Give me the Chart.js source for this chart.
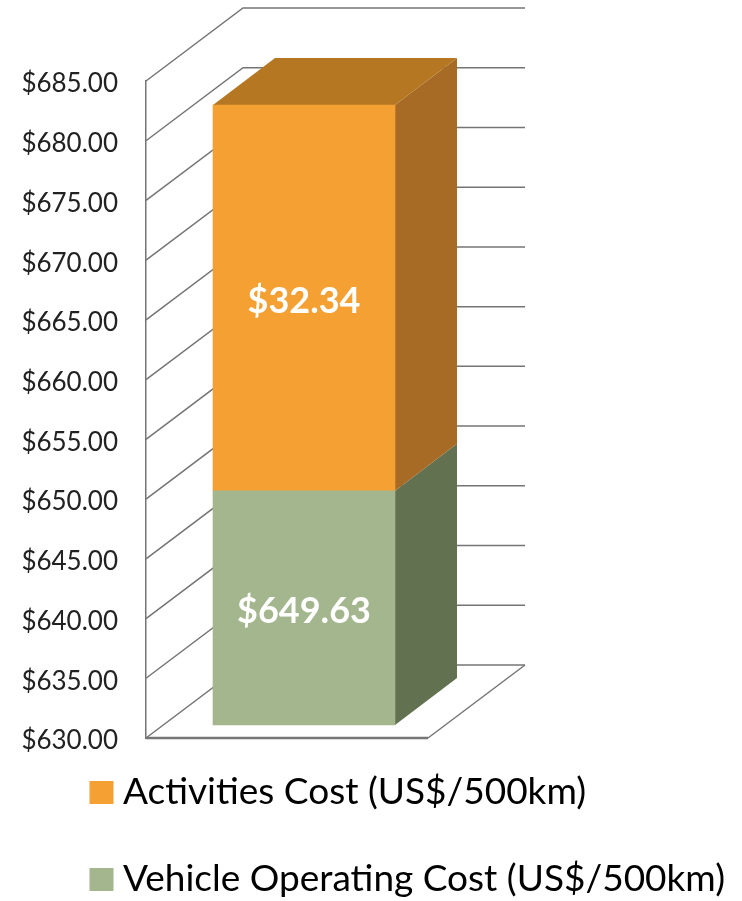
<!DOCTYPE html>
<html>
<head>
<meta charset="utf-8">
<title>Cost per 500km</title>
<script src="https://cdn.jsdelivr.net/npm/chart.js@4"></script>
<style>
    html, body { margin: 0; padding: 0; background: #fff; }
    canvas { display: block; }
</style>
</head>
<body>
<canvas id="costChart" width="742" height="901"></canvas>
<script>
const categories = ['Cost per 500km'];
const vehicleCost = [649.63];
const activitiesCost = [32.34];
const tickLabels = ['$630.00', '$635.00', '$640.00', '$645.00', '$650.00', '$655.00',
    '$660.00', '$665.00', '$670.00', '$675.00', '$680.00', '$685.00'];
const seriesNames = ['Vehicle Operating Cost (US$/500km)', 'Activities Cost (US$/500km)'];
const axisStart = 630;

const wallDepth = { x: 97, y: 73 };
const barDepth = { x: 62, y: 47 };
const floorWidth = 282;
const backWallRight = 525;
const gridColor = '#757575';

function polygon(ctx, points, color) {
    ctx.fillStyle = color;
    ctx.beginPath();
    points.forEach(function(p, i) {
        if (i === 0) ctx.moveTo(p[0], p[1]);
        else ctx.lineTo(p[0], p[1]);
    });
    ctx.closePath();
    ctx.fill();
}

// the 3d box around the plot, walked from the y axis ticks
const wallsPlugin = {
    id: 'walls',
    beforeDatasetsDraw(chart) {
        const ctx = chart.ctx;
        const scale = chart.scales.y;
        const left = chart.chartArea.left;
        const floorY = scale.getPixelForValue(axisStart);

        ctx.save();
        ctx.strokeStyle = gridColor;
        ctx.lineWidth = 1.5;
        scale.ticks.forEach(function(tick) {
            const y = scale.getPixelForValue(tick.value);
            ctx.beginPath();
            ctx.moveTo(left, y);
            ctx.lineTo(left + wallDepth.x, y - wallDepth.y);
            ctx.lineTo(backWallRight, y - wallDepth.y);
            ctx.stroke();
        });

        // floor
        ctx.beginPath();
        ctx.moveTo(left + floorWidth, floorY);
        ctx.lineTo(backWallRight, floorY - wallDepth.y);
        ctx.stroke();
        ctx.lineWidth = 2.5;
        ctx.beginPath();
        ctx.moveTo(left, floorY);
        ctx.lineTo(left + floorWidth, floorY);
        ctx.stroke();
        ctx.restore();
    }
};

// top and side faces of the bars
const barSidesPlugin = {
    id: 'barSides',
    beforeDatasetsDraw(chart) {
        const ctx = chart.ctx;
        const dx = barDepth.x;
        const dy = barDepth.y;
        const sideColors = ['#62714f', '#a76b26'];

        chart.data.datasets.forEach(function(ds, i) {
            const bar = chart.getDatasetMeta(i).data[0];
            const right = bar.x + bar.width / 2;
            polygon(ctx, [
                [right, bar.base],
                [right + dx, bar.base - dy],
                [right + dx, bar.y - dy],
                [right, bar.y]
            ], sideColors[i]);
        });

        const topBar = chart.getDatasetMeta(1).data[0];
        const l = topBar.x - topBar.width / 2;
        const r = topBar.x + topBar.width / 2;
        polygon(ctx, [
            [l, topBar.y],
            [l + dx, topBar.y - dy],
            [r + dx, topBar.y - dy],
            [r, topBar.y]
        ], '#b57722');
    },
    afterDatasetsDraw(chart) {
        const ctx = chart.ctx;
        const values = [vehicleCost[0], activitiesCost[0]];
        ctx.save();
        ctx.fillStyle = '#fff';
        ctx.font = 'bold 36px Lato';
        ctx.textAlign = 'center';
        ctx.textBaseline = 'middle';
        chart.data.datasets.forEach(function(ds, i) {
            const bar = chart.getDatasetMeta(i).data[0];
            ctx.fillText('$' + values[i].toFixed(2), bar.x, (bar.y + bar.base) / 2 + 3);
        });
        ctx.restore();
    }
};

// legend keeps no room in the layout, it sits under the floor
const legendPlacePlugin = {
    id: 'legendPlace',
    afterLayout(chart) {
        chart.legend.left = 48.5;
        chart.legend.right = 742;
        chart.legend.top = 724;
        chart.legend.bottom = 901;
    }
};

new Chart(document.getElementById('costChart'), {
    type: 'bar',
    data: {
        labels: categories,
        datasets: [
            {
                label: seriesNames[0],
                data: [[axisStart, vehicleCost[0]]],
                backgroundColor: '#a3b68d',
                yAxisID: 'yBar'
            },
            {
                label: seriesNames[1],
                data: [[vehicleCost[0], vehicleCost[0] + activitiesCost[0]]],
                backgroundColor: '#f5a033',
                yAxisID: 'yBar'
            }
        ]
    },
    plugins: [wallsPlugin, barSidesPlugin, legendPlacePlugin],
    options: {
        responsive: false,
        animation: false,
        layout: {
            padding: { top: 81, right: 280, bottom: 162 }
        },
        datasets: {
            bar: { grouped: false, barThickness: 182, borderWidth: 0 }
        },
        scales: {
            x: { display: false },
            y: {
                min: axisStart,
                max: 685,
                afterFit(scale) { scale.width = 146; },
                grid: { display: false, drawTicks: false },
                border: { display: true, color: gridColor, width: 1.5 },
                ticks: {
                    stepSize: 5,
                    padding: 28,
                    labelOffset: 3,
                    color: '#222',
                    font: { family: 'Lato', size: 26 },
                    callback: function(value, index) {
                        return tickLabels[index];
                    }
                }
            },
            // bar front sits in front of the wall, so it has its own range
            yBar: {
                display: false,
                min: 628.91,
                max: 683.98
            }
        },
        plugins: {
            tooltip: { enabled: false },
            legend: {
                position: 'bottom',
                align: 'start',
                reverse: true,
                maxHeight: 1,
                labels: {
                    // small box plus a thick border, so the text sits close to the swatch
                    boxWidth: 6,
                    boxHeight: 5,
                    padding: 50,
                    color: '#222',
                    font: { family: 'Lato', size: 37 },
                    generateLabels(chart) {
                        return chart.data.datasets.map(function(ds, i) {
                            return {
                                text: ds.label,
                                fillStyle: ds.backgroundColor,
                                strokeStyle: ds.backgroundColor,
                                lineWidth: 18,
                                datasetIndex: i
                            };
                        });
                    }
                }
            }
        }
    }
});
</script>
</body>
</html>
